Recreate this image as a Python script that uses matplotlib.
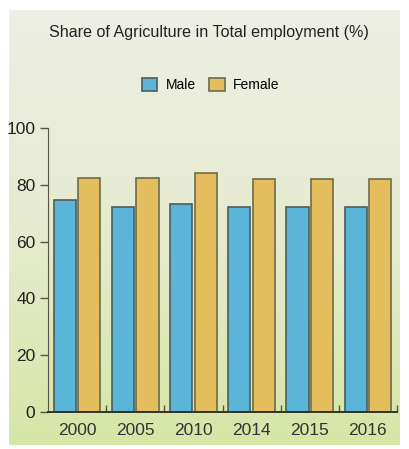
import numpy as np
import matplotlib.pyplot as plt
from matplotlib.colors import LinearSegmentedColormap

# data
years = ['2000', '2005', '2010', '2014', '2015', '2016']
male = [74.6, 72.2, 73.4, 72.2, 72.2, 72.2]
female = [82.4, 82.4, 84.0, 82.0, 82.0, 82.0]

plt.rcParams['font.family'] = ['Liberation Sans', 'DejaVu Sans']

W, H = 409, 449
fig = plt.figure(figsize=(W / 100, H / 100), dpi=100)
fig.patch.set_facecolor('white')

# gradient panel behind everything
bg = fig.add_axes([9 / W, 1 - 445 / H, 391 / W, 435 / H])
cmap = LinearSegmentedColormap.from_list('bg', ['#eeefe6', '#e6ebcf', '#d6e6a6'])
grad = np.linspace(0, 1, 256).reshape(-1, 1)
bg.imshow(grad, aspect='auto', cmap=cmap, extent=[0, 1, 1, 0])
bg.axis('off')

# main axes: x from 48 to 397, y=0 at 412, y=100 at 128
ax = fig.add_axes([48 / W, 1 - 412 / H, 349 / W, 284 / H])
ax.patch.set_alpha(0)

x = np.arange(len(years))
w = 0.38
edge = '#6d6b4c'
ax.bar(x - w / 2 - 0.02, male, w, color='#5bb5d8', edgecolor='#4c5d5c', linewidth=1.2, label='Male')
ax.bar(x + w / 2 + 0.02, female, w, color='#e4be5d', edgecolor=edge, linewidth=1.2, label='Female')

ax.set_xlim(-0.5, len(years) - 0.5)
ax.set_ylim(0, 100)
ax.set_yticks([0, 20, 40, 60, 80, 100])
ax.tick_params(axis='y', direction='out', length=6, width=1, color='#555544',
               labelsize=12.5, labelcolor='#222222', pad=3)
ax.set_xticks(x)
ax.set_xticklabels(years)
ax.tick_params(axis='x', length=0, labelsize=12.5, labelcolor='#333333', pad=8)
# small inward ticks at group boundaries
ax.set_xticks(np.arange(0.5, len(years)), minor=True)
ax.tick_params(axis='x', which='minor', direction='in', length=5, width=1, color='#555544')

for s in ['top', 'right']:
    ax.spines[s].set_visible(False)
ax.spines['left'].set_color('#555544')
ax.spines['bottom'].set_color('#333322')
ax.spines['bottom'].set_linewidth(1.4)

fig.text(0.51, 1 - 33 / H, 'Share of Agriculture in Total employment (%)',
         ha='center', va='center', fontsize=11.6, color='#222222')
fig.legend(loc='center', bbox_to_anchor=(0.515, 1 - 85 / H), ncol=2, frameon=False,
           fontsize=10, handlelength=1.1, handleheight=1.1, columnspacing=1.0,
           handletextpad=0.6)

fig.savefig('out.png', dpi=100)
